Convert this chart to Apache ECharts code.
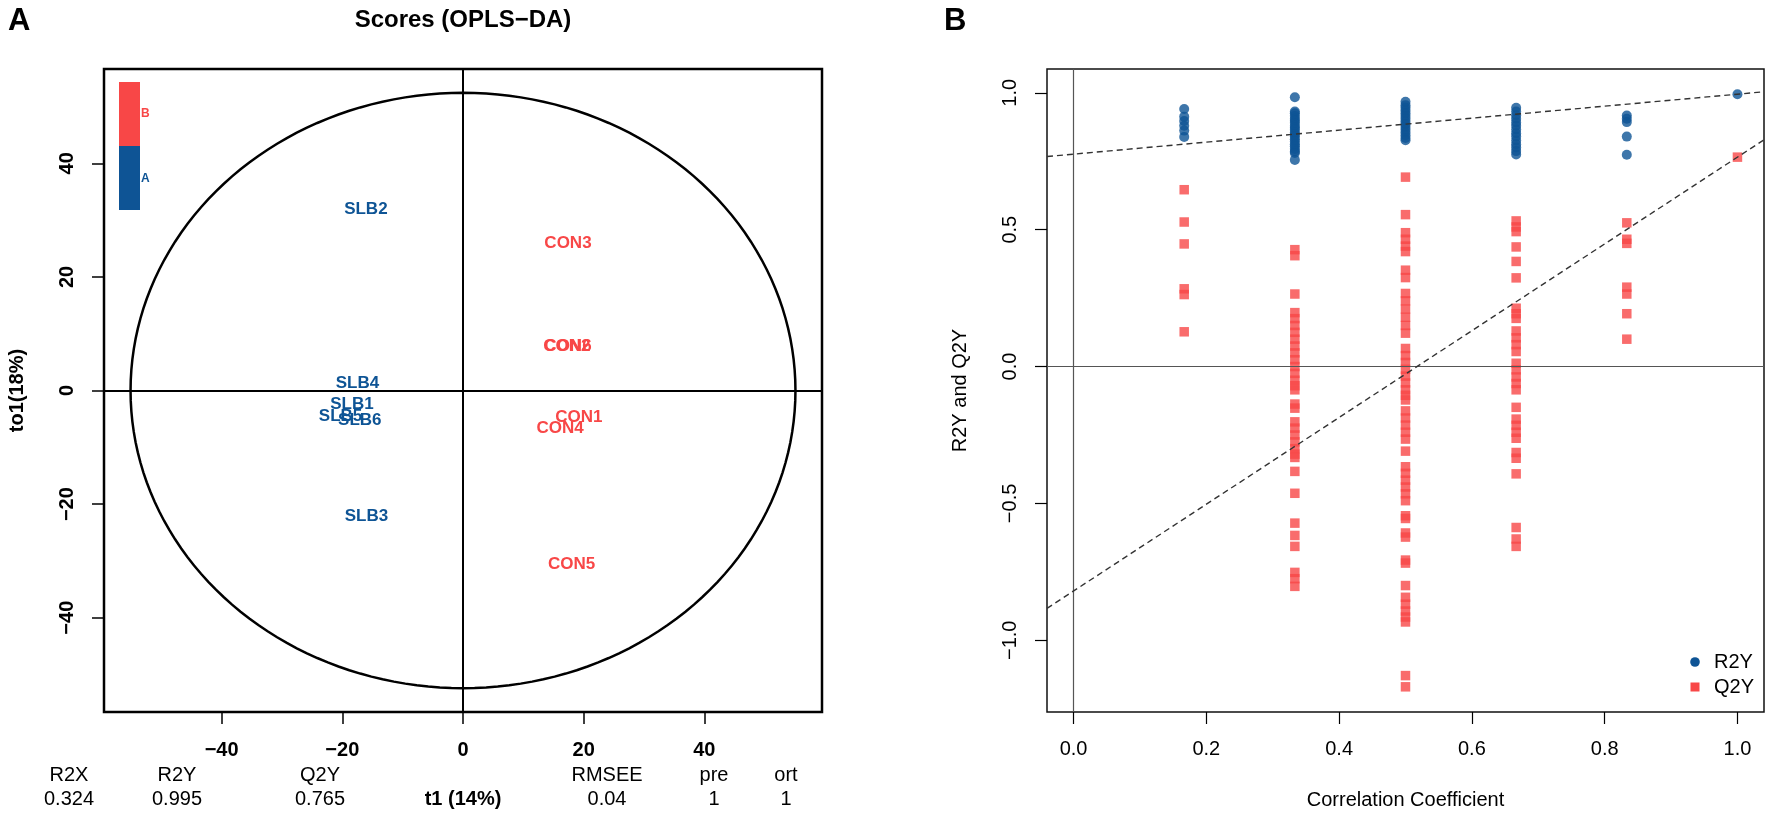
<!DOCTYPE html>
<html>
<head>
<meta charset="utf-8">
<title>OPLS-DA scores and permutation test</title>
<script src="https://cdn.jsdelivr.net/npm/echarts@6.0.0/dist/echarts.min.js"></script>
<style>
  html, body { margin: 0; padding: 0; background: #fff; }
  #chart { width: 1772px; height: 818px; }
</style>
</head>
<body>
<div id="chart"></div>
<script>
// ---- panel A : OPLS-DA scores ----
var scoreNames = ['SLB1', 'SLB2', 'SLB3', 'SLB4', 'SLB5', 'SLB6', 'CON1', 'CON2', 'CON3', 'CON4', 'CON5', 'CON6'];
var scoreGroup = ['A', 'A', 'A', 'A', 'A', 'A', 'B', 'B', 'B', 'B', 'B', 'B'];
var scoreT1 = [-18.4, -16.1, -16.0, -17.5, -20.3, -17.1, 19.2, 17.2, 17.4, 16.1, 18.0, 17.4];
var scoreTo1 = [-2.4, 31.9, -22.2, 1.2, -4.6, -5.3, -4.7, 7.8, 25.9, -6.6, -30.6, 7.7];
var ellipseRadii = [55.1, 52.4];          // Hotelling T2 ellipse, t1 / to1
var scoreTicks = [-40, -20, 0, 20, 40];
var statNames = ['R2X', 'R2Y', 'Q2Y', 'RMSEE', 'pre', 'ort'];
var statValues = ['0.324', '0.995', '0.765', '0.04', '1', '1'];

// ---- panel B : permutation test (one array per correlation level) ----
var corrLevels = [1 / 6, 2 / 6, 3 / 6, 4 / 6, 5 / 6, 1];
var r2yCol1 = [0.941, 0.913, 0.897, 0.880, 0.862, 0.839];
var r2yCol2 = [0.984, 0.932, 0.925, 0.915, 0.905, 0.898, 0.890, 0.880, 0.872, 0.865, 0.855, 0.848, 0.840, 0.830, 0.822, 0.812, 0.805, 0.795, 0.786, 0.780, 0.755];
var r2yCol3 = [0.967, 0.955, 0.945, 0.935, 0.925, 0.915, 0.905, 0.895, 0.885, 0.875, 0.865, 0.855, 0.845, 0.835, 0.827];
var r2yCol4 = [0.945, 0.932, 0.918, 0.905, 0.892, 0.880, 0.866, 0.852, 0.840, 0.826, 0.812, 0.800, 0.787, 0.775];
var r2yCol5 = [0.917, 0.905, 0.893, 0.840, 0.774];
var r2yCol6 = [0.995];
var q2yCol1 = [0.646, 0.528, 0.448, 0.284, 0.263, 0.127];
var q2yCol2 = [0.427, 0.405, 0.265, 0.197, 0.175, 0.150, 0.125, 0.100, 0.075, 0.050, 0.025, 0.000, -0.025, -0.050, -0.070, -0.085, -0.137, -0.152, -0.202, -0.225, -0.250, -0.275, -0.300, -0.320, -0.332, -0.383, -0.463, -0.572, -0.617, -0.657, -0.752, -0.775, -0.803];
var q2yCol3 = [0.692, 0.555, 0.489, 0.465, 0.440, 0.420, 0.352, 0.325, 0.267, 0.240, 0.210, 0.180, 0.150, 0.122, 0.066, 0.040, 0.015, -0.010, -0.035, -0.060, -0.085, -0.105, -0.122, -0.162, -0.188, -0.214, -0.240, -0.265, -0.309, -0.366, -0.390, -0.415, -0.440, -0.465, -0.490, -0.545, -0.555, -0.608, -0.623, -0.707, -0.718, -0.800, -0.843, -0.868, -0.893, -0.915, -0.933, -1.129, -1.170];
var q2yCol4 = [0.532, 0.510, 0.493, 0.437, 0.384, 0.324, 0.213, 0.193, 0.176, 0.130, 0.105, 0.080, 0.055, 0.012, -0.012, -0.038, -0.062, -0.085, -0.149, -0.192, -0.215, -0.240, -0.262, -0.314, -0.335, -0.392, -0.588, -0.630, -0.657];
var q2yCol5 = [0.525, 0.465, 0.450, 0.290, 0.265, 0.193, 0.100];
var q2yCol6 = [0.765];
var r2yIntercept = 0.776;
var q2yIntercept = -0.82;
var corrTicks = [0, 0.2, 0.4, 0.6, 0.8, 1.0];
var permTicks = [-1, -0.5, 0, 0.5, 1];

var BLUE = '#0E5495';
var RED = '#F84747';
var FONT = '"Liberation Sans", Arial, Helvetica, sans-serif';

function minusInt(v) {
	return v < 0 ? '\u2212' + Math.abs(v) : String(v);
}
function minusOne(v) {
	return (v < 0 ? '\u2212' : '') + Math.abs(v).toFixed(1);
}

// builds [x, y] pairs for a list of columns
function toPoints(cols) {
	var pts = [];
	for (var c = 0; c < cols.length; c++) {
		for (var i = 0; i < cols[c].length; i++) {
			pts.push([corrLevels[c], cols[c][i]]);
		}
	}
	return pts;
}

var r2yPoints = toPoints([r2yCol1, r2yCol2, r2yCol3, r2yCol4, r2yCol5, r2yCol6]);
var q2yPoints = toPoints([q2yCol1, q2yCol2, q2yCol3, q2yCol4, q2yCol5, q2yCol6]);

var xMinB = -0.04, xMaxB = 1.04;
function regLine(a, b) {
	return [[xMinB, a + (b - a) * xMinB], [xMaxB, a + (b - a) * xMaxB]];
}

var scoreData = scoreNames.map(function (n, i) {
	return [scoreT1[i], scoreTo1[i], i];
});

var chart = echarts.init(document.getElementById('chart'));

var option = {
	backgroundColor: '#fff',
	animation: false,
	textStyle: { fontFamily: FONT },
	grid: [
		{ left: 104, top: 69, width: 718, height: 643, show: true, borderColor: '#000', borderWidth: 2.5 },
		{ left: 1047, top: 69, width: 717, height: 643, show: true, borderColor: '#111', borderWidth: 1.5 }
	],
	xAxis: [
		{
			gridIndex: 0, type: 'value', min: -59.5, max: 59.5,
			axisLine: { show: false, onZero: false }, splitLine: { show: false },
			axisTick: { show: true, length: 12, customValues: scoreTicks, lineStyle: { color: '#000', width: 1.5 } },
			axisLabel: { customValues: scoreTicks, formatter: minusInt, color: '#000', fontSize: 20, fontWeight: 'bold', margin: 28, fontFamily: FONT },
			name: 't1 (14%)', nameLocation: 'middle', nameGap: 77,
			nameTextStyle: { color: '#000', fontSize: 20, fontWeight: 'bold', fontFamily: FONT }
		},
		{
			gridIndex: 1, type: 'value', min: xMinB, max: xMaxB,
			axisLine: { show: false, onZero: false }, splitLine: { show: false },
			axisTick: { show: true, length: 12, customValues: corrTicks, lineStyle: { color: '#000', width: 1.2 } },
			axisLabel: { customValues: corrTicks, formatter: minusOne, color: '#000', fontSize: 20, margin: 27, fontFamily: FONT },
			name: 'Correlation Coefficient', nameLocation: 'middle', nameGap: 78,
			nameTextStyle: { color: '#000', fontSize: 20, fontFamily: FONT }
		}
	],
	yAxis: [
		{
			gridIndex: 0, type: 'value', min: -56.6, max: 56.6,
			axisLine: { show: false, onZero: false }, splitLine: { show: false },
			axisTick: { show: true, length: 12, customValues: scoreTicks, lineStyle: { color: '#000', width: 1.5 } },
			axisLabel: { customValues: scoreTicks, formatter: minusInt, rotate: 90, color: '#000', fontSize: 20, fontWeight: 'bold', margin: 27, fontFamily: FONT },
			name: 'to1(18%)', nameLocation: 'middle', nameGap: 77,
			nameTextStyle: { color: '#000', fontSize: 20, fontWeight: 'bold', fontFamily: FONT }
		},
		{
			gridIndex: 1, type: 'value', min: -1.262, max: 1.087,
			axisLine: { show: false, onZero: false }, splitLine: { show: false },
			axisTick: { show: true, length: 12, customValues: permTicks, lineStyle: { color: '#000', width: 1.2 } },
			axisLabel: { customValues: permTicks, formatter: minusOne, rotate: 90, color: '#000', fontSize: 20, margin: 27, fontFamily: FONT },
			name: 'R2Y and Q2Y', nameLocation: 'middle', nameGap: 77,
			nameTextStyle: { color: '#000', fontSize: 20, fontFamily: FONT }
		}
	],
	series: [
		// ellipse
		{
			type: 'custom', xAxisIndex: 0, yAxisIndex: 0, silent: true, z: 3,
			data: [[0, 0, ellipseRadii[0], ellipseRadii[1]]],
			renderItem: function (params, api) {
				var cx = api.value(0), cy = api.value(1), rx = api.value(2), ry = api.value(3);
				var pts = [];
				for (var d = 0; d <= 360; d += 2) {
					var t = d * Math.PI / 180;
					pts.push(api.coord([cx + rx * Math.cos(t), cy + ry * Math.sin(t)]));
				}
				return { type: 'polyline', shape: { points: pts }, style: { stroke: '#000', lineWidth: 2.5, fill: null } };
			}
		},
		// sample labels, text drawn at each score
		{
			type: 'custom', xAxisIndex: 0, yAxisIndex: 0, silent: true, z: 4,
			data: scoreData,
			renderItem: function (params, api) {
				var p = api.coord([api.value(0), api.value(1)]);
				var k = api.value(2);
				return {
					type: 'text', x: p[0], y: p[1],
					style: {
						text: scoreNames[k], fill: scoreGroup[k] === 'A' ? BLUE : RED,
						font: 'bold 17px ' + FONT, align: 'center', verticalAlign: 'middle'
					}
				};
			},
			markLine: {
				silent: true, symbol: ['none', 'none'], label: { show: false },
				lineStyle: { color: '#000', width: 2, type: 'solid' },
				data: [{ xAxis: 0 }, { yAxis: 0 }]
			}
		},
		// Q2Y
		{
			name: 'Q2Y', type: 'scatter', xAxisIndex: 1, yAxisIndex: 1, z: 4,
			symbol: 'rect', symbolSize: 9.5, itemStyle: { color: RED },
			data: q2yPoints,
			markLine: {
				silent: true, symbol: ['none', 'none'], label: { show: false },
				lineStyle: { color: '#555', width: 1.2, type: 'solid' },
				data: [{ xAxis: 0 }, { yAxis: 0 }]
			}
		},
		// R2Y
		{
			name: 'R2Y', type: 'scatter', xAxisIndex: 1, yAxisIndex: 1, z: 5,
			symbol: 'circle', symbolSize: 10, itemStyle: { color: BLUE },
			data: r2yPoints
		},
		// regression lines
		{
			type: 'line', xAxisIndex: 1, yAxisIndex: 1, z: 6, silent: true, symbol: 'none',
			lineStyle: { color: '#333', width: 1.4, type: [6, 4] },
			data: regLine(r2yIntercept, r2yCol6[0])
		},
		{
			type: 'line', xAxisIndex: 1, yAxisIndex: 1, z: 6, silent: true, symbol: 'none',
			lineStyle: { color: '#333', width: 1.4, type: [6, 4] },
			data: regLine(q2yIntercept, q2yCol6[0])
		}
	],
	graphic: []
};

// titles, colour key and summary table
var g = option.graphic;
g.push({ type: 'text', left: 8, top: 6, style: { text: 'A', font: 'bold 31px ' + FONT, fill: '#000' } });
g.push({ type: 'text', left: 944, top: 6, style: { text: 'B', font: 'bold 31px ' + FONT, fill: '#000' } });
g.push({ type: 'text', x: 463, y: 20, style: { text: 'Scores (OPLS\u2212DA)', font: 'bold 24px ' + FONT, fill: '#000', align: 'center', verticalAlign: 'middle' } });

g.push({ type: 'rect', shape: { x: 119, y: 82, width: 21, height: 64 }, style: { fill: RED } });
g.push({ type: 'rect', shape: { x: 119, y: 146, width: 21, height: 64 }, style: { fill: BLUE } });
g.push({ type: 'text', x: 141, y: 114, style: { text: 'B', font: 'bold 12px ' + FONT, fill: RED, verticalAlign: 'middle' } });
g.push({ type: 'text', x: 141, y: 179, style: { text: 'A', font: 'bold 12px ' + FONT, fill: BLUE, verticalAlign: 'middle' } });

var statX = [69, 177, 320, 607, 714, 786];
for (var i = 0; i < statNames.length; i++) {
	g.push({ type: 'text', x: statX[i], y: 775, style: { text: statNames[i], font: '20px ' + FONT, fill: '#000', align: 'center', verticalAlign: 'middle' } });
	g.push({ type: 'text', x: statX[i], y: 799, style: { text: statValues[i], font: '20px ' + FONT, fill: '#000', align: 'center', verticalAlign: 'middle' } });
}

// legend of panel B
g.push({ type: 'circle', shape: { cx: 1695, cy: 662, r: 4.8 }, style: { fill: BLUE } });
g.push({ type: 'rect', shape: { x: 1690.5, y: 682.5, width: 9, height: 9 }, style: { fill: RED } });
g.push({ type: 'text', x: 1714, y: 662, style: { text: 'R2Y', font: '20px ' + FONT, fill: '#000', verticalAlign: 'middle' } });
g.push({ type: 'text', x: 1714, y: 687, style: { text: 'Q2Y', font: '20px ' + FONT, fill: '#000', verticalAlign: 'middle' } });

chart.setOption(option);
</script>
</body>
</html>
